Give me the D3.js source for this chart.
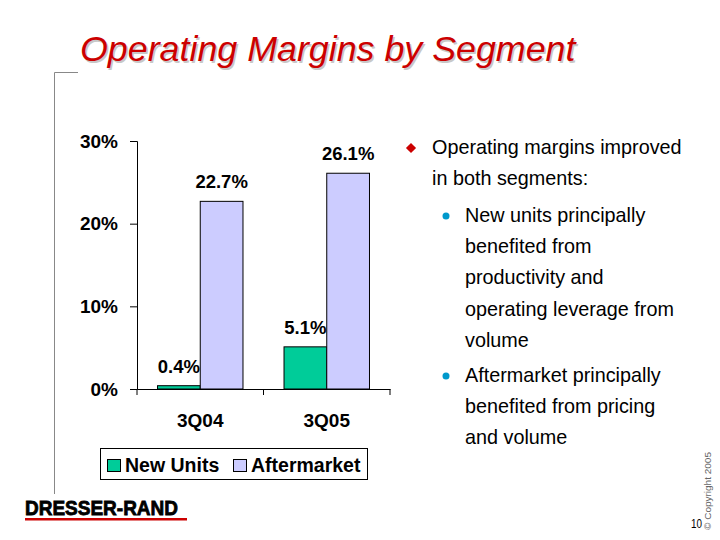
<!DOCTYPE html>
<html>
<head>
<meta charset="utf-8">
<script src="https://cdn.jsdelivr.net/npm/d3@7"></script>
<style>
  html, body { margin: 0; padding: 0; background: #fff; }
  svg { display: block; font-family: Arial, "Liberation Sans", sans-serif; }
</style>
</head>
<body>
<svg id="chart" width="720" height="540"></svg>
<script>
const categories = ["3Q04", "3Q05"];
const seriesNames = ["New Units", "Aftermarket"];
const newUnits = [0.4, 5.1];
const aftermarket = [22.7, 26.1];
const yTicks = [0, 10, 20, 30];
const seriesColors = ["#00CC99", "#CCCCFF"];
const bulletMain = ["Operating margins improved", "in both segments:"];
const bulletSubs = [
  ["New units principally", "benefited from", "productivity and", "operating leverage from", "volume"],
  ["Aftermarket principally", "benefited from pricing", "and volume"]
];

const svg = d3.select("#chart");

// Title with slight shadow
svg.append("text").attr("x", 80).attr("y", 61)
  .attr("font-size", 35.8).attr("font-style", "italic")
  .attr("fill", "#c8c8c8").attr("transform", "translate(1.5,1.5)")
  .text("Operating Margins by Segment");
svg.append("text").attr("x", 80).attr("y", 61)
  .attr("font-size", 35.8).attr("font-style", "italic")
  .attr("fill", "#CC0000")
  .text("Operating Margins by Segment");

// Frame corner lines
svg.append("path").attr("d", "M78,72.5 H54.5 V494")
  .attr("fill", "none").attr("stroke", "#888").attr("stroke-width", 1);

// Chart
const x0 = d3.scaleBand().domain(categories).range([137, 390]).paddingInner(0).paddingOuter(0);
const x1 = d3.scaleBand().domain(seriesNames).range([0, x0.bandwidth()]).paddingInner(0).paddingOuter(0.48);
const y = d3.scaleLinear().domain([0, 30]).range([389, 141]);

const data = categories.map((c, i) => ({cat: c, vals: [newUnits[i], aftermarket[i]]}));

const g = svg.append("g");
const groups = g.selectAll(".grp").data(data).join("g")
  .attr("transform", d => `translate(${x0(d.cat)},0)`);
groups.selectAll("rect").data(d => d.vals.map((v, j) => ({v, s: seriesNames[j], j})))
  .join("rect")
  .attr("x", d => x1(d.s))
  .attr("y", d => y(d.v))
  .attr("width", x1.bandwidth())
  .attr("height", d => y(0) - y(d.v))
  .attr("fill", d => seriesColors[d.j])
  .attr("stroke", "#000").attr("stroke-width", 1);

groups.selectAll(".lbl").data(d => d.vals.map((v, j) => ({v, s: seriesNames[j], j})))
  .join("text")
  .attr("x", d => x1(d.s) + x1.bandwidth() / 2)
  .attr("y", d => y(d.v) - 13)
  .attr("text-anchor", "middle")
  .attr("font-weight", "bold")
  .attr("font-size", 18.5)
  .text(d => d.v.toFixed(1) + "%");

// Y axis
const yAxis = d3.axisLeft(y).tickValues(yTicks).tickSize(7).tickFormat(d => d + "%");
const ya = svg.append("g").attr("transform", "translate(137,0)").call(yAxis);
ya.select(".domain").attr("stroke", "#000");
ya.selectAll(".tick line").attr("stroke", "#000");
ya.selectAll(".tick text").attr("font-size", 19).attr("font-weight", "bold")
  .attr("font-family", "Arial, 'Liberation Sans', sans-serif").attr("fill", "#000").attr("x", -19);

// X axis
const xAxis = d3.axisBottom(x0).tickSize(0).tickPadding(0);
const xa = svg.append("g").attr("transform", "translate(0,389)").call(xAxis);
xa.select(".domain").attr("stroke", "#000");
xa.selectAll(".tick text").attr("font-size", 19).attr("font-weight", "bold")
  .attr("font-family", "Arial, 'Liberation Sans', sans-serif").attr("fill", "#000")
  .attr("dy", null).attr("y", 38);
const sepTicks = categories.map(c => x0(c)).concat([x0(categories[categories.length - 1]) + x0.bandwidth()]);
xa.selectAll(".sep").data(sepTicks).join("line")
  .attr("x1", d => d).attr("x2", d => d).attr("y1", 0).attr("y2", 6)
  .attr("stroke", "#000");

// Legend
const lg = svg.append("g");
lg.append("rect").attr("x", 100.5).attr("y", 448.5).attr("width", 267).attr("height", 31)
  .attr("fill", "#fff").attr("stroke", "#000");
const legendX = [107, 233];
seriesNames.forEach((s, i) => {
  lg.append("rect").attr("x", legendX[i] + 0.5).attr("y", 459.5).attr("width", 13).attr("height", 12)
    .attr("fill", seriesColors[i]).attr("stroke", "#000");
  lg.append("text").attr("x", legendX[i] + 18).attr("y", 471.5)
    .attr("font-size", 19.5).attr("font-weight", "bold").text(s);
});

// Bullets
const bx = 432, lh = 31.2;
let ly = 154;
svg.append("rect").attr("x", -3.6).attr("y", -3.6).attr("width", 7.2).attr("height", 7.2)
  .attr("transform", `translate(411,${ly - 6}) rotate(45)`).attr("fill", "#CC0000");
bulletMain.forEach(t => {
  svg.append("text").attr("x", bx).attr("y", ly).attr("font-size", 19.8).attr("fill", "#000").text(t);
  ly += lh;
});
ly += 5.5;
bulletSubs.forEach(lines => {
  svg.append("circle").attr("cx", 446).attr("cy", ly - 6).attr("r", 3.5).attr("fill", "#0099CC");
  lines.forEach(t => {
    svg.append("text").attr("x", 465).attr("y", ly).attr("font-size", 19.8).attr("fill", "#000").text(t);
    ly += lh;
  });
  ly += 4;
});

// Logo
svg.append("text").attr("x", 25).attr("y", 515)
  .attr("font-size", 20).attr("font-weight", "bold").attr("fill", "#000")
  .attr("stroke", "#000").attr("stroke-width", 0.8)
  .attr("textLength", 153).attr("lengthAdjust", "spacingAndGlyphs")
  .text("DRESSER-RAND");
svg.append("rect").attr("x", 25).attr("y", 518).attr("width", 162).attr("height", 2.5).attr("fill", "#CC0000");

// Page number
svg.append("text").attr("x", 691).attr("y", 528).attr("font-size", 13)
  .attr("textLength", 11).attr("lengthAdjust", "spacingAndGlyphs")
  .attr("fill", "#000").text("10");
// Copyright
svg.append("text").attr("transform", "translate(711,530) rotate(-90)")
  .attr("font-size", 9).attr("fill", "#666")
  .attr("textLength", 78).attr("lengthAdjust", "spacingAndGlyphs")
  .text("© Copyright 2005");
</script>
</body>
</html>
